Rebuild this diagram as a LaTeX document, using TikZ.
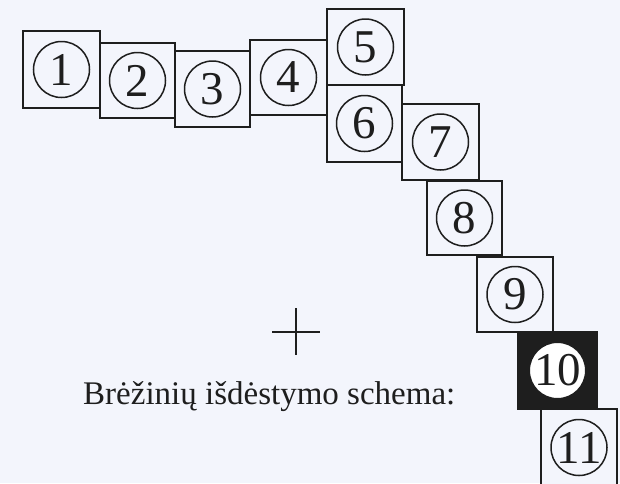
\documentclass[tikz,border=0pt]{standalone}
\usepackage{fontspec}
\setmainfont{Liberation Serif}
\definecolor{paper}{RGB}{243,245,252}
\definecolor{ink}{RGB}{30,30,30}
\begin{document}
\begin{tikzpicture}[x=1pt,y=-1pt,
  sheet/.style={draw=ink,line width=1.8pt,fill=paper,inner sep=0pt},
  num/.style={circle,draw=ink,line width=1.5pt,minimum size=56pt,inner sep=0pt,font=\fontsize{47}{47}\selectfont,text=ink},
  lbl/.style={font=\fontsize{33}{36}\selectfont,text=ink,inner sep=0pt,anchor=base west}]
\fill[paper] (0,0) rectangle (620,483);
\useasboundingbox (0,0) rectangle (620,483);
\clip (0,0) rectangle (620,483);
% sheets: corners given in px
\foreach \n/\xa/\ya/\xb/\yb in {1/23/31/100/108,2/100/43/175/118,3/175/51/250/127,4/250/40/327/115,5/327/9/404/85,6/327/85/402/162,7/402/104/479/180,8/427/181/502/255,9/477/257/553/332,11/541/409/617/486}{
  \node[sheet,minimum width={(\xb-\xa)*1pt},minimum height={(\yb-\ya)*1pt}] (s\n) at ({(\xa+\xb)/2},{(\ya+\yb)/2}) {};
  \node[num] (c\n) at (s\n.center) {\n};
}
\node[sheet,fill=ink,minimum width=79pt,minimum height=77pt] (s10) at (557.5,370.5) {};
\node[num,fill=white] (c10) at (s10.center) {10};
% cross
\coordinate (hl) at (272,332);
\coordinate (hr) at (320,332);
\coordinate (vt) at (296,308);
\coordinate (vb) at (296,355);
\draw[ink,line width=1.3pt] (hl) -- (hr) (vt) -- (vb);
\node[lbl] (title) at (83,404) {Brėžinių išdėstymo schema:};
\end{tikzpicture}
\end{document}
